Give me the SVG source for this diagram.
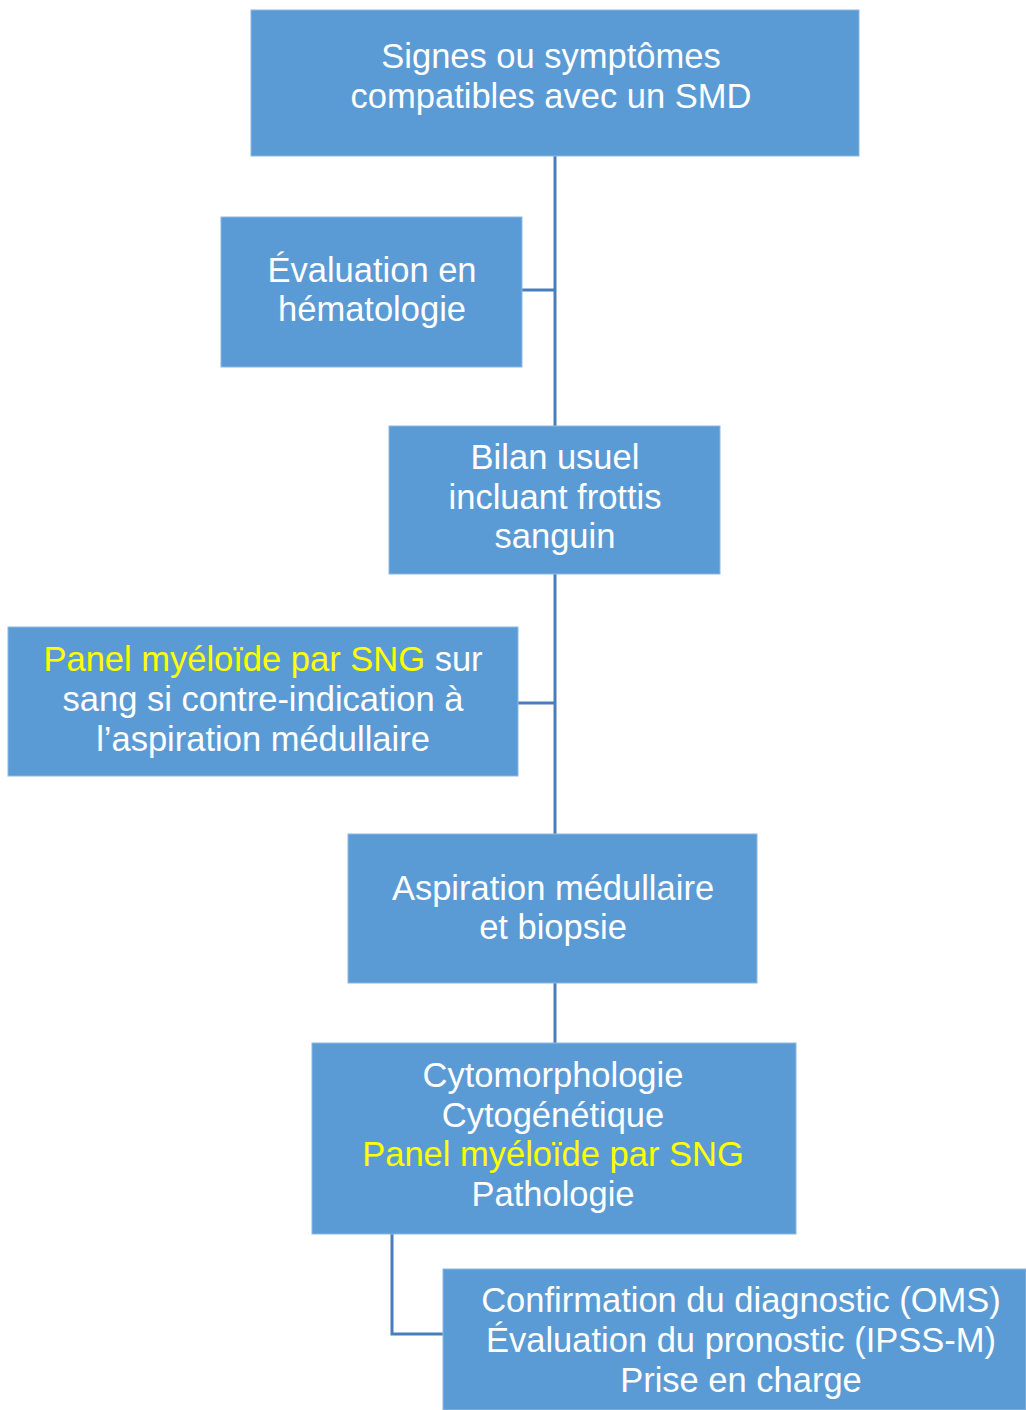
<svg xmlns="http://www.w3.org/2000/svg" width="1026" height="1410" viewBox="0 0 1026 1410">
<style>
.box{fill:#5B9BD5;stroke:#8DB8E2;stroke-width:1}
.t{font-family:"Liberation Sans",Arial,sans-serif;font-size:34.5px;fill:#FFFFFF;text-anchor:middle}
.y{fill:#FFFF00}
.c{stroke:#4A7EBB;stroke-width:3;fill:none}
</style>
<rect width="1026" height="1410" fill="#FFFFFF"/>
<g id="connectors">
<path class="c" d="M555,156 V426"/>
<path class="c" d="M522,290 H555"/>
<path class="c" d="M555,574 V834"/>
<path class="c" d="M518,703 H555"/>
<path class="c" d="M555,983 V1043"/>
<path class="c" d="M392,1234 V1334 H443"/>
</g>
<g id="n1">
<rect class="box" x="251" y="10" width="608" height="146"/>
<text class="t" x="551" y="68">Signes ou symptômes</text>
<text class="t" x="551" y="108">compatibles avec un SMD</text>
</g>
<g id="n2">
<rect class="box" x="221" y="217" width="301" height="150"/>
<text class="t" x="372" y="282">Évaluation en</text>
<text class="t" x="372" y="321">hématologie</text>
</g>
<g id="n3">
<rect class="box" x="389" y="426" width="331" height="148"/>
<text class="t" x="555" y="469">Bilan usuel</text>
<text class="t" x="555" y="509">incluant frottis</text>
<text class="t" x="555" y="548">sanguin</text>
</g>
<g id="n4">
<rect class="box" x="8" y="627" width="510" height="149"/>
<text class="t" x="263" y="671"><tspan class="y">Panel myéloïde par SNG</tspan> sur</text>
<text class="t" x="263" y="711">sang si contre-indication à</text>
<text class="t" x="263" y="751">l’aspiration médullaire</text>
</g>
<g id="n5">
<rect class="box" x="348" y="834" width="409" height="149"/>
<text class="t" x="553" y="900">Aspiration médullaire</text>
<text class="t" x="553" y="939">et biopsie</text>
</g>
<g id="n6">
<rect class="box" x="312" y="1043" width="484" height="191"/>
<text class="t" x="553" y="1087">Cytomorphologie</text>
<text class="t" x="553" y="1127">Cytogénétique</text>
<text class="t y" x="553" y="1166">Panel myéloïde par SNG</text>
<text class="t" x="553" y="1206">Pathologie</text>
</g>
<g id="n7">
<rect class="box" x="443" y="1269" width="583" height="141"/>
<text class="t" x="741" y="1312">Confirmation du diagnostic (OMS)</text>
<text class="t" x="741" y="1352">Évaluation du pronostic (IPSS-M)</text>
<text class="t" x="741" y="1392">Prise en charge</text>
</g>
</svg>
